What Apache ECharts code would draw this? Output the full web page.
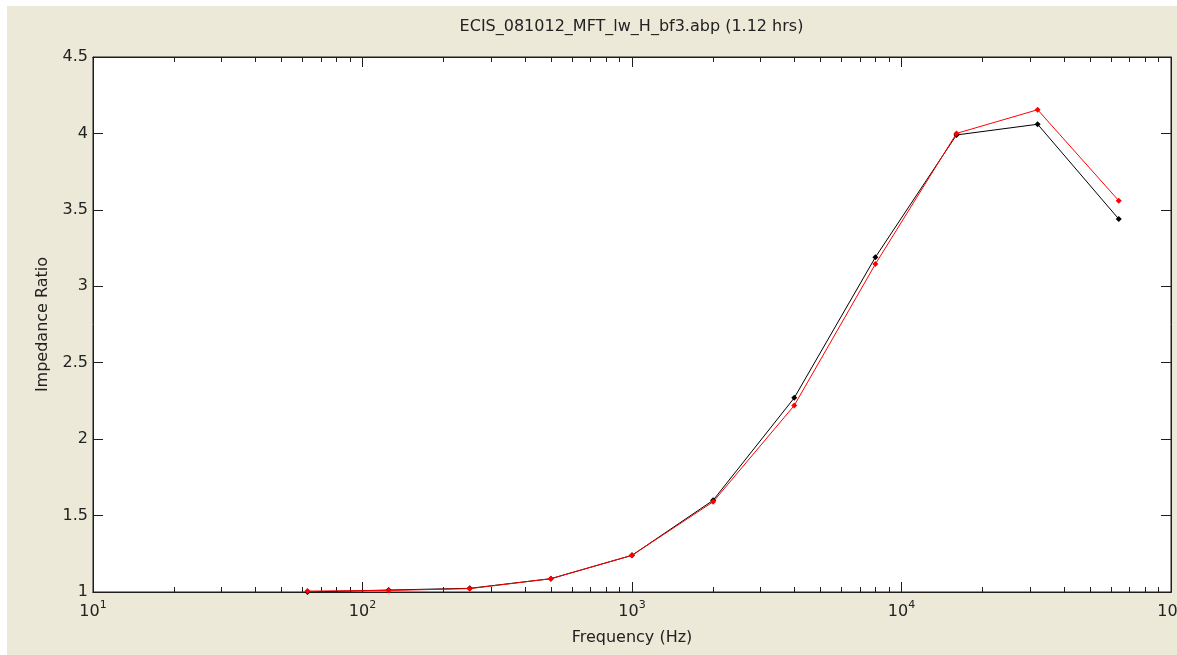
<!DOCTYPE html>
<html>
<head>
<meta charset="utf-8">
<script src="https://cdn.jsdelivr.net/npm/echarts@6/dist/echarts.min.js"></script>
<style>
  html, body { margin: 0; padding: 0; background: #ECE9D8; overflow: hidden; width: 1177px; height: 655px; }
  #c { position: absolute; left: 0; top: 0; width: 1177px; height: 655px; background: #ECE9D8; }
  #wl { position: absolute; left: 0; top: 0; width: 7px; height: 655px; background: #ffffff; z-index: 10; }
  #wt { position: absolute; left: 0; top: 0; width: 1177px; height: 6px; background: #ffffff; z-index: 10; }
</style>
</head>
<body>
<div id="c"></div>
<div id="wl"></div>
<div id="wt"></div>
<script>
// ---- data ----
const titleText = 'ECIS_081012_MFT_lw_H_bf3.abp (1.12 hrs)';
const xName = 'Frequency (Hz)';
const yName = 'Impedance Ratio';
const frequencies = [62.5, 125, 250, 500, 1000, 2000, 4000, 8000, 16000, 32000, 64000];
const blackSeries = [1.0, 1.013, 1.024, 1.087, 1.24, 1.60, 2.27, 3.19, 3.99, 4.06, 3.44];
const redSeries   = [1.006, 1.01, 1.022, 1.087, 1.24, 1.59, 2.22, 3.145, 4.0, 4.155, 3.56];
const minorTicks = [20, 30, 40, 50, 60, 70, 80, 90,
                    200, 300, 400, 500, 600, 700, 800, 900,
                    2000, 3000, 4000, 5000, 6000, 7000, 8000, 9000,
                    20000, 30000, 40000, 50000, 60000, 70000, 80000, 90000];
const yTicks = ['1', '1.5', '2', '2.5', '3', '3.5', '4', '4.5'];

const FONT = 'DejaVu Sans';
const AX = '#1e1e1e';

function pairs(xs, ys) { return xs.map((x, i) => [x, ys[i]]); }

function logAxis(pos, withLabels, minor) {
  return {
    type: 'log', logBase: 10, min: 10, max: 100000, position: pos,
    axisLine: { show: true, onZero: false, lineStyle: { color: AX, width: 1 } },
    axisTick: minor
      ? { show: true, inside: true, length: 5, customValues: minorTicks, lineStyle: { color: AX } }
      : { show: true, inside: true, length: 10, lineStyle: { color: AX } },
    splitLine: { show: false },
    minorTick: { show: false },
    axisLabel: withLabels ? {
      show: true, margin: 10, hideOverlap: false,
      formatter: function (v) {
        const e = Math.round(Math.log10(v));
        return '{b|10}{s|' + e + '}';
      },
      rich: {
        b: { fontFamily: FONT, fontSize: 16, lineHeight: 16, padding: [4, 0, 0, 0], color: '#222' },
        s: { fontFamily: FONT, fontSize: 11, lineHeight: 11, padding: [0, 0, 9, 0], color: '#222' }
      }
    } : { show: false },
    name: withLabels ? xName : '',
    nameLocation: 'middle', nameGap: 38,
    nameTextStyle: { fontFamily: FONT, fontSize: 16, color: '#222' }
  };
}

const chart = echarts.init(document.getElementById('c'), null, { renderer: 'canvas', width: 1177, height: 655 });
chart.setOption({
  animation: false,
  backgroundColor: '#ECE9D8',
  title: {
    text: titleText, left: 631.5, top: 19, padding: 0, textAlign: 'center',
    textStyle: { fontFamily: FONT, fontSize: 16, fontWeight: 'normal', color: '#222', lineHeight: 16 }
  },
  grid: {
    left: 93, top: 57, right: 6, bottom: 63,
    show: true, backgroundColor: '#ffffff', borderColor: AX, borderWidth: 1,
    containLabel: false, outerBoundsMode: 'none'
  },
  xAxis: [
    logAxis('bottom', true, false),
    logAxis('top', false, false),
    logAxis('bottom', false, true),
    logAxis('top', false, true)
  ],
  yAxis: [
    {
      type: 'value', min: 1, max: 4.5, interval: 0.5, position: 'left',
      axisLine: { show: true, lineStyle: { color: AX, width: 1 } },
      axisTick: { show: true, inside: true, length: 10, lineStyle: { color: AX } },
      splitLine: { show: false },
      axisLabel: {
        margin: 5, fontFamily: FONT, fontSize: 16, color: '#222',
        formatter: function (v) { return yTicks[Math.round((v - 1) / 0.5)]; }
      },
      name: yName, nameLocation: 'middle', nameGap: 42,
      nameTextStyle: { fontFamily: FONT, fontSize: 16, color: '#222' }
    },
    {
      type: 'value', min: 1, max: 4.5, interval: 0.5, position: 'right',
      axisLine: { show: true, lineStyle: { color: AX, width: 1 } },
      axisTick: { show: true, inside: true, length: 10, lineStyle: { color: AX } },
      splitLine: { show: false },
      axisLabel: { show: false }
    }
  ],
  series: [
    {
      name: 'black', type: 'line', xAxisIndex: 0, yAxisIndex: 0,
      data: pairs(frequencies, blackSeries),
      symbol: 'diamond', symbolSize: 6, showSymbol: true,
      lineStyle: { color: '#000000', width: 1 },
      itemStyle: { color: '#000000' },
      z: 3
    },
    {
      name: 'red', type: 'line', xAxisIndex: 0, yAxisIndex: 0,
      data: pairs(frequencies, redSeries),
      symbol: 'diamond', symbolSize: 6, showSymbol: true,
      lineStyle: { color: '#ff0000', width: 1 },
      itemStyle: { color: '#ff0000' },
      z: 4
    }
  ]
});
</script>
</body>
</html>
